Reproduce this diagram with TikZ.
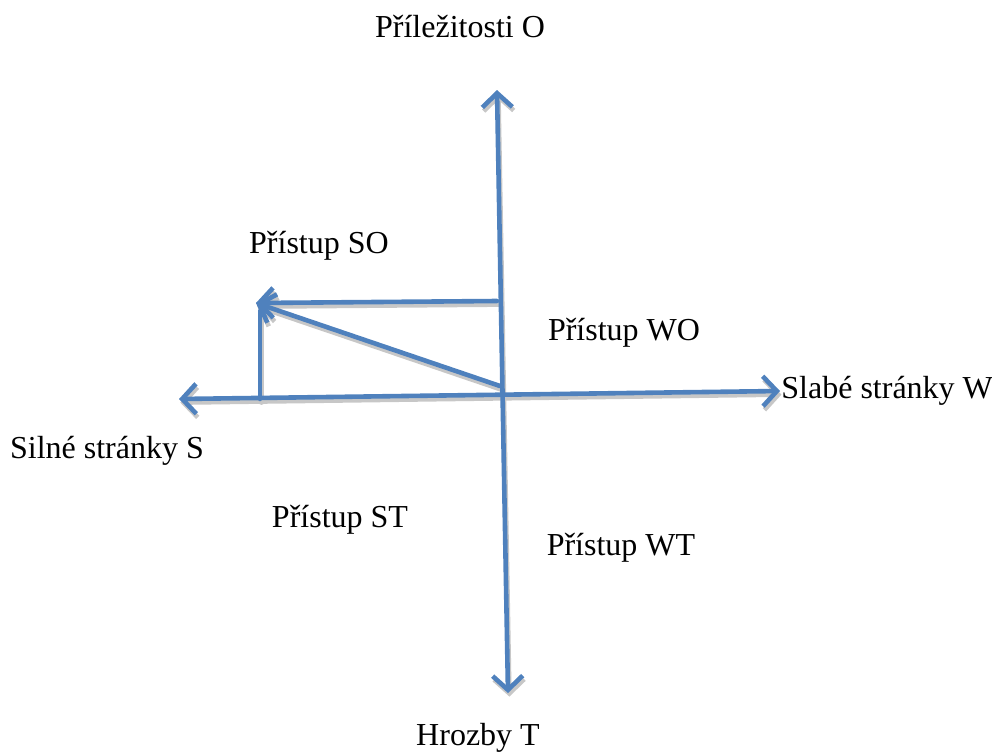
\documentclass[tikz,border=0pt]{standalone}
\usepackage{fontspec}
\setmainfont{Liberation Serif}
\usetikzlibrary{arrows.meta}
\definecolor{axisblue}{RGB}{79,129,189}
\tikzset{barb/.tip={Straight Barb[length=7pt,width=15pt]}}
\newcommand{\swotlines}[1]{%
    \draw[#1, barb-barb] (oTop) -- (tBot);
    \draw[#1, barb-barb] (sLeft) -- (wRight);
    \draw[#1, -barb] (oEnd) -- (soTip);
    \draw[#1, -barb] (centre) -- (soTip);
    \draw[#1] (sFoot) -- (sTop);}
\begin{document}
\begin{tikzpicture}[x=0.5pt,y=-0.5pt,
    every node/.style={font=\fontsize{16}{19}\selectfont, inner sep=0pt},
    axisline/.style={line width=2.3pt, draw=axisblue, line cap=round, line join=round},
    shadowline/.style={line width=2.3pt, draw=black!22, line cap=round, line join=round}]
    \useasboundingbox (0,0) rectangle (992,751);
    % end points
    \coordinate (oTop) at (497,90);
    \coordinate (tBot) at (508,693);
    \coordinate (sLeft) at (179,399);
    \coordinate (wRight) at (780,391);
    \coordinate (centre) at (500,386);
    \coordinate (oEnd) at (497,301);
    \coordinate (soTip) at (256,303);
    \coordinate (sFoot) at (260,399);
    \coordinate (sTop) at (260,311);
    % shadow, then lines
    \begin{scope}[transform canvas={shift={(0.7pt,-1.8pt)}}]
        \swotlines{shadowline}
    \end{scope}
    \swotlines{axisline}
    % labels
    \node (opp) at (460,27) {Příležitosti O};
    \node (so) at (319,246) {Přístup SO};
    \node (wo) at (624,333) {Přístup WO};
    \node[anchor=west] (weak) at (781,391) {Slabé stránky W};
    \node (strong) at (107,451) {Silné stránky S};
    \node (st) at (340,520) {Přístup ST};
    \node (wt) at (621,548) {Přístup WT};
    \node (threat) at (478,738) {Hrozby T};
\end{tikzpicture}
\end{document}
